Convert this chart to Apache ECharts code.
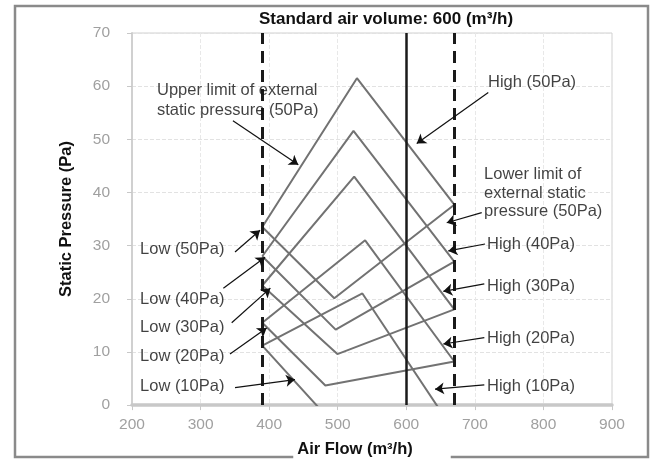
<!DOCTYPE html>
<html>
<head>
<meta charset="utf-8">
<script src="https://cdn.jsdelivr.net/npm/echarts@6/dist/echarts.min.js"></script>
<style>html,body{margin:0;padding:0;background:#fff}#c{width:655px;height:467px}</style>
</head>
<body>
<div id="c"></div>
<script>
// ---- data (air flow m3/h, static pressure Pa) ----
const xTicks = [200, 300, 400, 500, 600, 700, 800, 900];
const yTicks = [0, 10, 20, 30, 40, 50, 60, 70];
const limitFlows = [390, 670];      // dashed limits
const standardFlow = [600];         // standard air volume
// each setting: left(Low) -> top -> right(High) -> bottom -> left
const esp50 = [[390, 33.5], [528, 61.5], [670, 37.7], [495, 20.1], [390, 33.5]];
const esp40 = [[390, 28.0], [523, 51.6], [670, 27.0], [497, 14.2], [390, 28.0]];
const esp30 = [[390, 22.5], [524, 43.0], [670, 18.0], [499.5, 9.6], [390, 22.5]];
const esp20 = [[390, 15.5], [540, 31.0], [670, 8.2], [482, 3.7], [390, 15.5]];
const esp10 = [[390, 11.2], [536, 21.0], [670, -5.0], [490, -3.0], [390, 11.2]];
const settings = ['50Pa', '40Pa', '30Pa', '20Pa', '10Pa'];

// annotations (anchored in data coordinates)
const noteTexts = [
  'Upper limit of external\nstatic pressure (50Pa)', 'High (50Pa)',
  'Lower limit of\nexternal static\npressure (50Pa)',
  'High (40Pa)', 'High (30Pa)', 'High (20Pa)', 'High (10Pa)',
  'Low (50Pa)', 'Low (40Pa)', 'Low (30Pa)', 'Low (20Pa)', 'Low (10Pa)'
];
const noteAnchors = [
  [236.5, 57.4], [719.2, 60.7], [713.4, 39.9],
  [717.7, 30.3], [717.7, 22.3], [717.7, 12.6], [717.7, 3.5],
  [211.7, 29.3], [211.7, 19.9], [211.7, 14.7], [211.7, 9.1], [211.7, 3.5]
];
const arrowFrom = [
  [347.2, 53.5], [719.6, 58.8], [710, 36.2],
  [714.9, 30.3], [713.8, 22.8], [713.8, 12.7], [713.8, 3.8],
  [350.2, 28.8], [333.2, 22.0], [345.4, 15.5], [342.9, 9.6], [350.2, 3.3]
];
const arrowTo = [
  [442.5, 45.2], [615.2, 49.2], [659, 34.3],
  [661.3, 29.0], [654, 21.4], [654, 11.5], [641.9, 3.0],
  [386.7, 32.9], [394.1, 27.8], [401.8, 22.0], [396.4, 14.5], [437.7, 4.8]
];

const FONT = '"Liberation Sans", Arial, sans-serif';
const chart = echarts.init(document.getElementById('c'), null, {renderer: 'canvas'});
const curves = [esp50, esp40, esp30, esp20, esp10];

const series = curves.map((d, i) => ({
  name: settings[i], type: 'line', data: d, showSymbol: false, symbol: 'none',
  clip: true, z: 3,
  lineStyle: {color: '#727272', width: 2}
}));

series.push({
  type: 'line', data: [], z: 4,
  markLine: {
    silent: true, symbol: ['none', 'none'], label: {show: false},
    data: limitFlows.map(v => ({xAxis: v, lineStyle: {color: '#1a1a1a', width: 3, type: [12, 7]}}))
      .concat(standardFlow.map(v => ({xAxis: v, lineStyle: {color: '#1a1a1a', width: 2.5, type: 'solid'}})))
  }
});

series.push({
  type: 'lines', coordinateSystem: 'cartesian2d', z: 6,
  symbol: ['none', 'arrow'], symbolSize: 9,
  lineStyle: {color: '#111', width: 1.2, opacity: 1},
  data: arrowFrom.map((f, i) => ({coords: [f, arrowTo[i]]}))
});

series.push({
  type: 'scatter', symbolSize: 0, z: 7, silent: true,
  data: noteAnchors.map((p, i) => ({
    value: [p[0], p[1], noteTexts[i]],
    label: {lineHeight: i === 2 ? 18.5 : 20}
  })),
  label: {
    show: true, position: 'right', distance: 0, align: 'left',
    formatter: p => p.data.value[2],
    fontSize: 16.5, color: '#111', fontFamily: FONT
  }
});

chart.setOption({
  animation: false,
  backgroundColor: '#fff',
  textStyle: {fontFamily: FONT},
  title: {
    text: 'Standard air volume: 600 (m³/h)', left: 232, top: 8,
    backgroundColor: '#fff', padding: [3, 38, 3, 27],
    textStyle: {fontSize: 17, fontWeight: 'bold', color: '#111', fontFamily: FONT}
  },
  graphic: [{
    type: 'rect', shape: {x: 15, y: 6, width: 633, height: 451},
    style: {fill: null, stroke: '#8a8a8a', lineWidth: 2.5}, z: -1, silent: true
  }],
  grid: {left: 132, top: 33, width: 480, height: 377, show: true, borderColor: '#d0d0d0', borderWidth: 1},
  xAxis: {
    type: 'value', min: xTicks[0], max: xTicks[xTicks.length - 1], interval: 100,
    name: 'Air Flow (m³/h)', nameLocation: 'middle', nameGap: 30,
    nameTextStyle: {fontSize: 16.5, fontWeight: 'bold', color: '#111', backgroundColor: '#fff', padding: [3, 38, 4, 4]},
    axisLine: {show: true, lineStyle: {color: '#c8c8c8', width: 3.5}},
    axisTick: {show: true, length: 5, lineStyle: {color: '#c8c8c8'}},
    axisLabel: {fontSize: 15.5, color: '#a0a0a0', margin: 12},
    splitLine: {show: true, lineStyle: {color: '#e8e8e8', type: 'dashed'}}
  },
  yAxis: {
    type: 'value', min: yTicks[0], max: yTicks[yTicks.length - 1], interval: 10,
    name: 'Static Pressure (Pa)', nameLocation: 'middle', nameGap: 57,
    nameTextStyle: {fontSize: 16.5, fontWeight: 'bold', color: '#111'},
    axisLine: {show: true, lineStyle: {color: '#d0d0d0', width: 2}},
    axisTick: {show: true, length: 5, lineStyle: {color: '#c8c8c8'}},
    axisLabel: {fontSize: 15.5, color: '#a0a0a0', margin: 22},
    splitLine: {show: true, lineStyle: {color: '#e2e2e2', type: 'dashed'}}
  },
  series: series
});
</script>
</body>
</html>
